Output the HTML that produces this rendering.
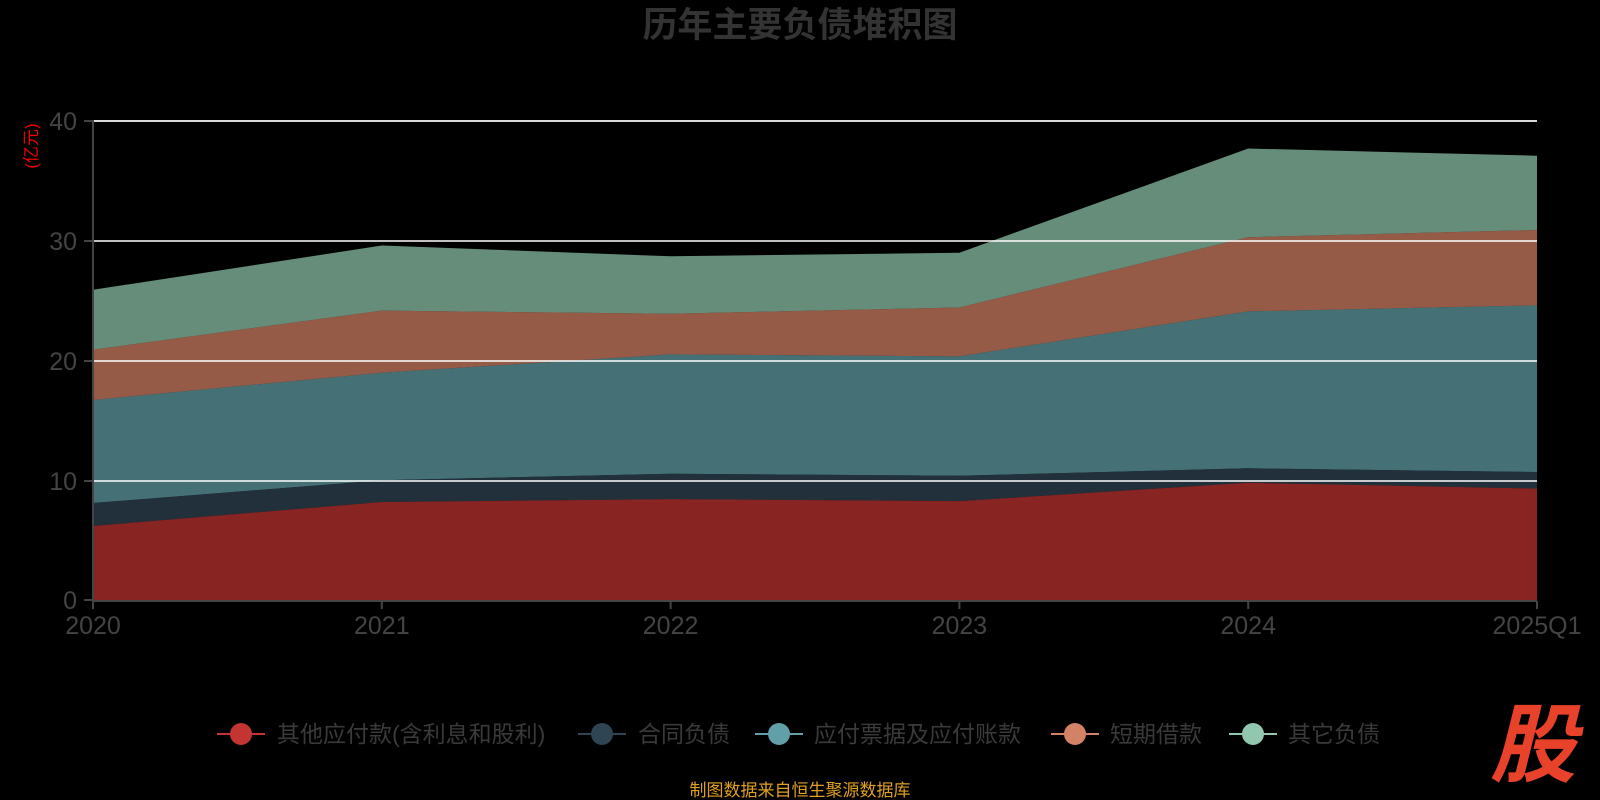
<!DOCTYPE html>
<html><head><meta charset="utf-8"><style>
html,body{margin:0;padding:0;background:#000;}
svg{display:block;font-family:"Liberation Sans","Noto Sans CJK SC",sans-serif;}
</style></head><body>
<svg width="1600" height="800" viewBox="0 0 1600 800" xmlns="http://www.w3.org/2000/svg">
<rect width="1600" height="800" fill="#000"/>
<text x="800" y="37" text-anchor="middle" font-size="35" font-weight="bold" fill="#333">历年主要负债堆积图</text>
<text transform="translate(37,146) rotate(-90)" text-anchor="middle" font-size="17" fill="#e00">(亿元)</text>
<g fill-opacity="0.7">
<polygon fill="#91c7ae" points="93,289.8 381.8,245.5 670.6,256.3 959.4,252.7 1248.2,148.5 1537,155.7 1537,230 1248.2,237.2 959.4,307.5 670.6,313.7 381.8,310.6 93,349.7"/>
<polygon fill="#d48265" points="93,349.7 381.8,310.6 670.6,313.7 959.4,307.5 1248.2,237.2 1537,230 1537,305.4 1248.2,311.4 959.4,356.4 670.6,354.4 381.8,372.7 93,400"/>
<polygon fill="#61a0a8" points="93,400 381.8,372.7 670.6,354.4 959.4,356.4 1248.2,311.4 1537,305.4 1537,472 1248.2,468.3 959.4,475.7 670.6,473.7 381.8,480.3 93,503"/>
<polygon fill="#2f4554" points="93,503 381.8,480.3 670.6,473.7 959.4,475.7 1248.2,468.3 1537,472 1537,488.6 1248.2,482.8 959.4,501.1 670.6,499.1 381.8,502 93,526"/>
<polygon fill="#c23531" points="93,526 381.8,502 670.6,499.1 959.4,501.1 1248.2,482.8 1537,488.6 1537,600 93,600"/>
</g>
<g stroke="#fff" stroke-width="2" stroke-opacity="0.75">
<line x1="93" y1="121" x2="1537" y2="121" stroke-opacity="0.85"/>
<line x1="93" y1="241" x2="1537" y2="241"/>
<line x1="93" y1="361" x2="1537" y2="361"/>
<line x1="93" y1="481" x2="1537" y2="481"/>
</g>
<g stroke="#444" stroke-width="2">
<line x1="93" y1="120" x2="93" y2="601"/>
<line x1="92" y1="601" x2="1537" y2="601"/>
<line x1="84" y1="121" x2="93" y2="121"/><line x1="84" y1="241" x2="93" y2="241"/>
<line x1="84" y1="361" x2="93" y2="361"/><line x1="84" y1="481" x2="93" y2="481"/>
<line x1="84" y1="600" x2="93" y2="600"/>
<line x1="93" y1="601" x2="93" y2="609"/><line x1="381.8" y1="601" x2="381.8" y2="609"/>
<line x1="670.6" y1="601" x2="670.6" y2="609"/><line x1="959.4" y1="601" x2="959.4" y2="609"/>
<line x1="1248.2" y1="601" x2="1248.2" y2="609"/><line x1="1537" y1="601" x2="1537" y2="609"/>
</g>
<g font-size="25" fill="#444" text-anchor="end">
<text x="77" y="130">40</text><text x="77" y="250">30</text><text x="77" y="370">20</text>
<text x="77" y="490">10</text><text x="77" y="609">0</text>
</g>
<g font-size="25" fill="#444" text-anchor="middle">
<text x="93" y="634">2020</text><text x="381.8" y="634">2021</text><text x="670.6" y="634">2022</text>
<text x="959.4" y="634">2023</text><text x="1248.2" y="634">2024</text><text x="1537" y="634">2025Q1</text>
</g>
<g stroke-width="2">
<line x1="217" y1="734" x2="265" y2="734" stroke="#c23531"/><circle cx="241" cy="734" r="11" fill="#c23531"/>
<line x1="578" y1="734" x2="626" y2="734" stroke="#2f4554"/><circle cx="602" cy="734" r="11" fill="#2f4554"/>
<line x1="755" y1="734" x2="803" y2="734" stroke="#61a0a8"/><circle cx="779" cy="734" r="11" fill="#61a0a8"/>
<line x1="1051" y1="734" x2="1099" y2="734" stroke="#d48265"/><circle cx="1075" cy="734" r="11" fill="#d48265"/>
<line x1="1229" y1="734" x2="1277" y2="734" stroke="#91c7ae"/><circle cx="1253" cy="734" r="11" fill="#91c7ae"/>
</g>
<g font-size="23" fill="#3a3a3a">
<text x="277" y="742">其他应付款(含利息和股利)</text>
<text x="638" y="742">合同负债</text>
<text x="814" y="742">应付票据及应付账款</text>
<text x="1110" y="742">短期借款</text>
<text x="1288" y="742">其它负债</text>
</g>
<text x="800" y="796" text-anchor="middle" font-size="17" fill="#e0a020">制图数据来自恒生聚源数据库</text>
<text x="1533" y="775" text-anchor="middle" font-size="86" font-weight="bold" font-style="italic" fill="#e8432a">股</text>
</svg>
</body></html>
